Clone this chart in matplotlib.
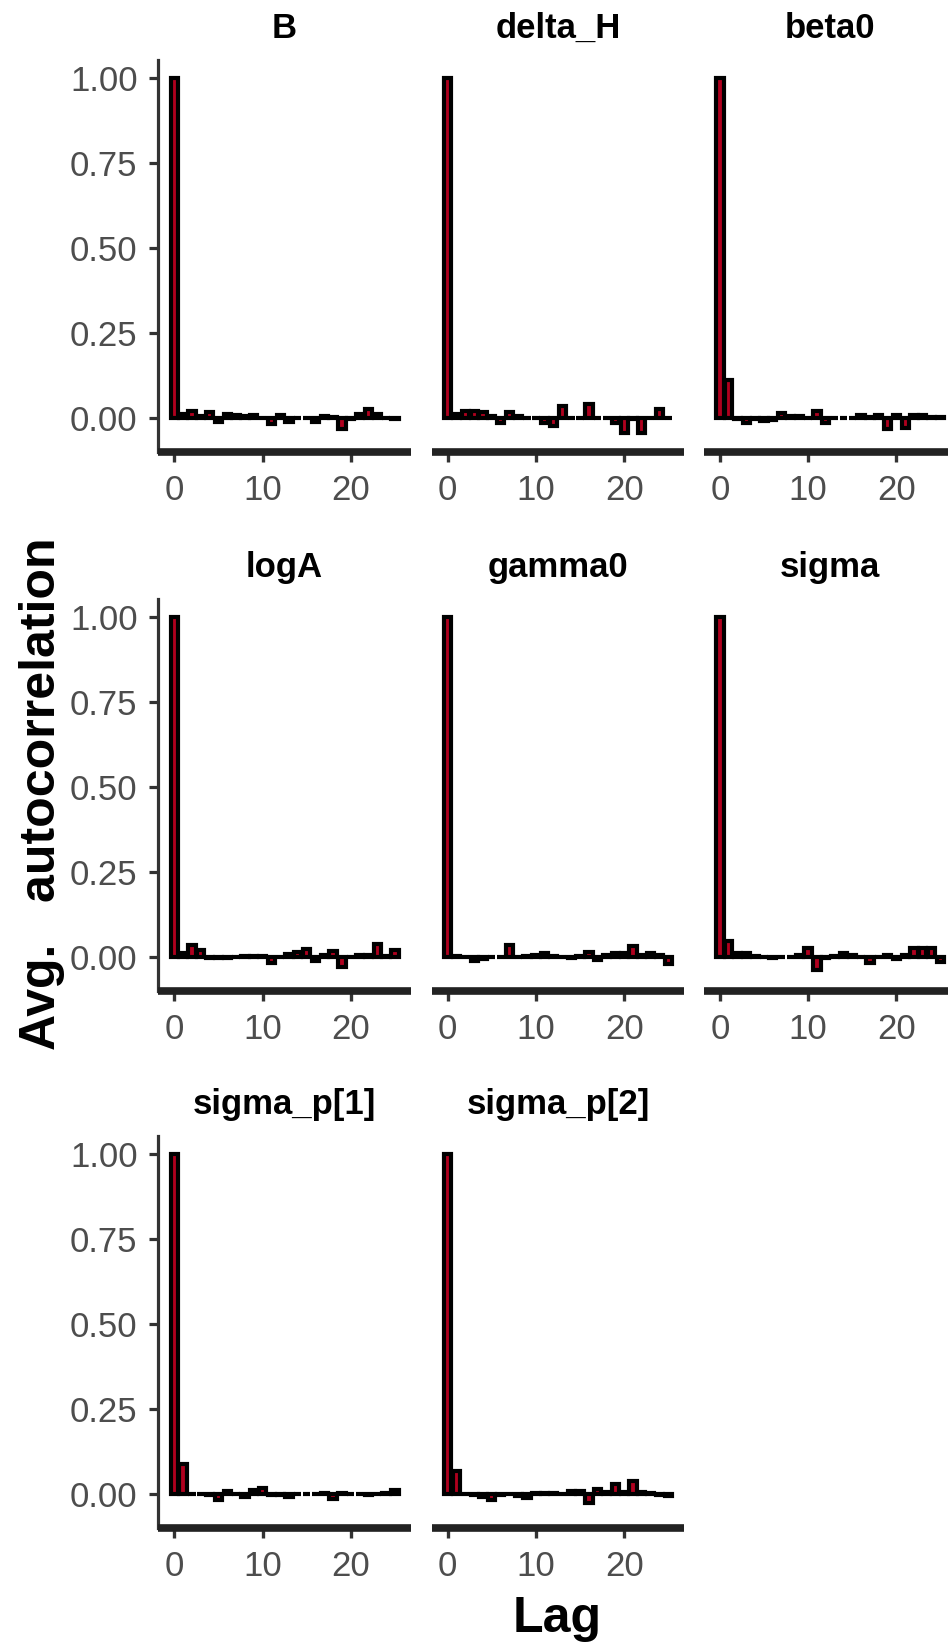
import numpy as np
import matplotlib
matplotlib.use('Agg')
import matplotlib.pyplot as plt

plt.rcParams['font.family'] = ['Liberation Sans', 'DejaVu Sans']

# lags 0..25, averaged autocorrelation per parameter
lags = np.arange(26)
params = ['B', 'delta_H', 'beta0', 'logA', 'gamma0', 'sigma', 'sigma_p[1]', 'sigma_p[2]']

acf_B = [1.0, 0.01, 0.02, 0.005, 0.015, -0.012, 0.01, 0.008, 0.004, 0.007, 0.0, -0.02, 0.008,
         -0.012, 0.0, -0.002, -0.013, 0.004, 0.002, -0.035, -0.004, 0.01, 0.025, 0.01, 0.0, -0.005]
acf_delta_H = [1.0, 0.01, 0.02, 0.02, 0.015, 0.005, -0.015, 0.015, 0.005, 0.0, 0.0, -0.015, -0.025,
               0.035, -0.002, -0.002, 0.04, -0.002, -0.002, -0.015, -0.045, -0.005, -0.045, 0.0, 0.025, 0.0]
acf_beta0 = [1.0, 0.11, -0.005, -0.015, -0.003, -0.01, -0.008, 0.012, 0.005, 0.005, 0.0, 0.02, -0.015,
             -0.002, 0.0, 0.0, 0.007, 0.003, 0.007, -0.035, 0.007, -0.03, 0.008, 0.008, 0.003, 0.002]
acf_logA = [1.0, 0.01, 0.035, 0.02, -0.003, -0.005, -0.004, 0.0, 0.003, 0.003, 0.002, -0.02, 0.0,
            0.008, 0.015, 0.022, -0.012, 0.005, 0.017, -0.03, 0.0, 0.005, 0.005, 0.038, 0.003, 0.018]
acf_gamma0 = [1.0, 0.003, 0.0, -0.012, -0.007, -0.002, 0.0, 0.035, -0.002, 0.002, 0.005, 0.01, 0.002,
              -0.002, -0.005, 0.003, 0.015, -0.01, 0.005, 0.01, 0.01, 0.03, 0.005, 0.01, 0.006, -0.022]
acf_sigma = [1.0, 0.045, 0.01, 0.012, 0.003, 0.0, -0.003, -0.002, 0.0, 0.005, 0.025, -0.04, -0.005,
             0.002, 0.012, 0.004, 0.0, -0.018, 0.0, 0.006, -0.008, 0.005, 0.025, 0.025, 0.025, -0.015]
acf_sigma_p1 = [1.0, 0.088, 0.0, -0.002, -0.003, -0.018, 0.008, -0.002, -0.01, 0.01, 0.016, -0.004, -0.003,
                -0.01, 0.0, -0.002, 0.0, 0.003, -0.015, 0.002, 0.0, -0.002, -0.004, -0.002, 0.003, 0.01]
acf_sigma_p2 = [1.0, 0.065, 0.0, -0.005, -0.01, -0.018, -0.003, 0.0, -0.006, -0.014, 0.002, 0.003, 0.002,
                0.0, 0.006, 0.008, -0.028, 0.012, 0.004, 0.028, 0.005, 0.038, 0.004, 0.002, -0.004, -0.008]

acfs = [acf_B, acf_delta_H, acf_beta0, acf_logA, acf_gamma0, acf_sigma, acf_sigma_p1, acf_sigma_p2]

yticks = [0.0, 0.25, 0.5, 0.75, 1.0]
ytick_labels = ['0.00', '0.25', '0.50', '0.75', '1.00']
xticks = [0, 10, 20]

bar_color = '#B0001E'
tick_grey = '#4D4D4D'

fig = plt.figure(figsize=(9.48, 16.48), dpi=100)

col_left = [0.1671, 0.4555, 0.7426]
row_bottom = [0.7255, 0.3984, 0.0726]
w, h = 0.2662, 0.2381

for i, (name, vals) in enumerate(zip(params, acfs)):
    r, c = divmod(i, 3)
    ax = fig.add_axes([col_left[c], row_bottom[r], w, h])
    ax.bar(lags, vals, width=0.83, color=bar_color, edgecolor='black', linewidth=3.0, zorder=3)
    ax.set_xlim(-1.8, 26.8)
    ax.set_ylim(-0.1025, 1.0525)

    for s in ['top', 'right']:
        ax.spines[s].set_visible(False)
    ax.spines['bottom'].set_linewidth(5.5)
    ax.spines['bottom'].set_color('#222222')
    ax.spines['bottom'].set_capstyle('butt')

    ax.set_xticks(xticks)
    ax.tick_params(axis='x', length=7.5, width=2.4, color='#333333', pad=8,
                   labelsize=25, labelcolor=tick_grey)

    if c == 0:
        ax.spines['left'].set_linewidth(2.3)
        ax.spines['left'].set_color('#333333')
        ax.set_yticks(yticks)
        ax.set_yticklabels(ytick_labels)
        ax.tick_params(axis='y', length=6.5, width=2.3, color='#333333', pad=8.5,
                       labelsize=25, labelcolor=tick_grey)
    else:
        ax.spines['left'].set_visible(False)
        ax.set_yticks([])

    ax.text(0.5, 1.056, name, transform=ax.transAxes, ha='center', va='baseline',
            fontsize=25, fontweight='bold', color='black')

fig.text(55 / 948, 0.5185, 'Avg.   autocorrelation', rotation=90, rotation_mode='anchor',
         ha='center', va='baseline', fontsize=36, fontweight='bold')
fig.text(557 / 948, 16 / 1648, 'Lag', ha='center', va='baseline',
         fontsize=36, fontweight='bold')

fig.savefig('out.png', dpi=100)
